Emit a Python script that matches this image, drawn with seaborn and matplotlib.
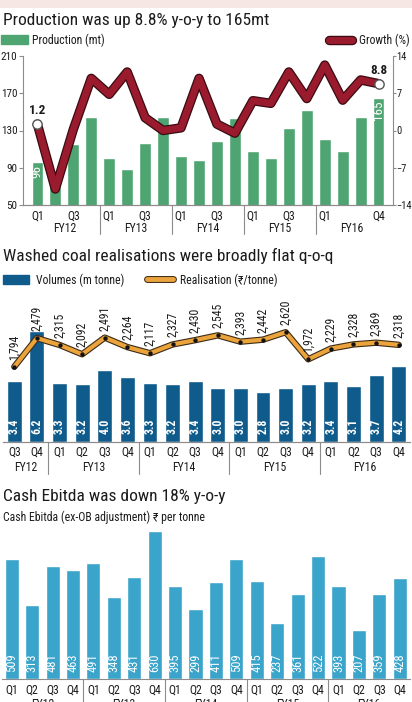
import numpy as np
import matplotlib
matplotlib.use('Agg')
import matplotlib.pyplot as plt
import matplotlib.patheffects as pe
from matplotlib import font_manager
from matplotlib.patches import Patch, Rectangle
from matplotlib.lines import Line2D
import seaborn as sns

# ---- data ----
fy_years = ['FY12', 'FY13', 'FY14', 'FY15', 'FY16']
quarters = ['Q1', 'Q2', 'Q3', 'Q4']

# production (mt) and y-o-y growth (%), FY12 Q1 .. FY16 Q4
production = [96, 75, 115, 145, 101, 89, 117, 144, 103, 98,
              119, 143, 108, 101, 133, 152, 121, 108, 144, 165]
growth = [1.2, -11.0, 0.2, 9.8, 6.8, 11.0, 2.4, 0.0, 0.5, 9.8,
          1.2, -0.5, 5.6, 5.1, 11.0, 6.0, 12.3, 5.7, 9.5, 8.8]
prod_tick_idx = [0, 2, 4, 6, 8, 10, 12, 14, 16, 19]
prod_tick_lab = ['Q1', 'Q3', 'Q1', 'Q3', 'Q1', 'Q3', 'Q1', 'Q3', 'Q1', 'Q4']

# washed coal, FY12 Q3 .. FY16 Q4
volumes = [3.4, 6.2, 3.3, 3.2, 4.0, 3.6, 3.3, 3.2, 3.4, 3.0,
           3.0, 2.8, 3.0, 3.2, 3.4, 3.1, 3.7, 4.2]
realisation = [1794, 2479, 2315, 2092, 2491, 2264, 2117, 2327, 2430, 2545,
               2393, 2442, 2620, 1972, 2229, 2328, 2369, 2318]

# cash ebitda (Rs per tonne), FY12 Q1 .. FY16 Q4
ebitda = [509, 313, 481, 463, 491, 348, 431, 630, 395, 299,
          411, 509, 415, 237, 361, 522, 393, 207, 359, 428]

periods = [f'{fy} {q}' for fy in fy_years for q in quarters]
coal_periods = periods[2:]

green = '#4fa572'
red = '#9a1b2d'
red_dark = '#3a0b12'
blue = '#0f5b8c'
orange = '#eba43c'
orange_dark = '#3d2a16'
light_blue = '#3aa4ca'
grey = '#8c8c8c'
ink = '#1b1b1b'

sns.set_theme(style='white')


def pick_font(names):
    for n in names:
        try:
            font_manager.findfont(n, fallback_to_default=False)
            return n
        except ValueError:
            pass
    return 'DejaVu Sans'


narrow = pick_font(['Liberation Sans Narrow', 'Roboto Condensed', 'Open Sans Condensed', 'DejaVu Sans'])
plt.rcParams['font.family'] = [narrow, 'DejaVu Sans']
plt.rcParams['text.color'] = ink
plt.rcParams['xtick.color'] = ink
plt.rcParams['ytick.color'] = ink

W, H = 412, 702
fig = plt.figure(figsize=(W / 100, H / 100), dpi=100)
fig.patch.set_facecolor('white')


def box(l, t, r, b):
    return [l / W, 1 - b / H, (r - l) / W, (b - t) / H]


def fy_labels(ax, first, dy):
    # FY names under the quarter labels, plus separators between years
    for i, fy in enumerate(fy_years):
        if i * 4 + 3 < first:
            continue
        c = (max(i * 4, first) + i * 4 + 3) / 2 - first
        ax.annotate(fy, xy=(c, 0), xycoords=('data', 'axes fraction'),
                    xytext=(0, -dy), textcoords='offset pixels',
                    ha='center', va='center', fontsize=8.5, annotation_clip=False)
        if i > 0:
            sep = i * 4 - 0.5 - first
            ax.axvline(sep, ymin=-(dy + 6) / ax.bbox.height, ymax=0,
                       color=grey, lw=0.8, clip_on=False)


fig.add_artist(Rectangle((0, 1 - 8 / H), 1, 8 / H, transform=fig.transFigure,
                         color='#f6e6e4', lw=0))

# ---------------- panel 1: production ----------------
fig.text(3 / W, 1 - 21 / H, 'Production was up 8.8% y-o-y to 165mt',
         fontsize=12.5, va='center', ha='left')

ax1 = fig.add_axes(box(23, 56, 393, 205))
sns.barplot(x=periods, y=production, color=green, saturation=1, width=0.65, ax=ax1)
ax1.set_ylim(50, 210)
ax1.set_yticks([50, 90, 130, 170, 210])
for i, v in enumerate(production):
    if i in (0, len(production) - 1):
        ax1.text(i, v - 3, str(v), rotation=90, ha='center', va='top',
                 color='white', fontsize=9.5)

ax1b = ax1.twinx()
sns.lineplot(x=np.arange(len(growth)), y=growth, ax=ax1b, color=red, lw=5,
             path_effects=[pe.Stroke(linewidth=6.8, foreground=red_dark), pe.Normal()])
sns.scatterplot(x=[0, len(growth) - 1], y=[growth[0], growth[-1]], ax=ax1b, s=45,
                color='white', edgecolor='#555555', linewidth=1, zorder=5)
for i in (0, len(growth) - 1):
    ax1b.annotate(f'{growth[i]:.1f}', xy=(i, growth[i]), xytext=(0, 7),
                  textcoords='offset pixels', ha='center', va='bottom',
                  fontsize=9.5, fontweight='bold')
ax1b.set_ylim(-14, 14)
ax1b.set_yticks([-14, -7, 0, 7, 14])
ax1.set_xlim(-0.8, len(production) - 0.2)
ax1.set_xticks(prod_tick_idx)
ax1.set_xticklabels(prod_tick_lab)
for a in (ax1, ax1b):
    a.set_xlabel('')
    a.set_ylabel('')
    a.spines['top'].set_visible(False)
    for s in a.spines.values():
        s.set_color(grey)
        s.set_linewidth(0.8)
ax1.spines['right'].set_visible(False)
ax1b.spines['left'].set_visible(False)
ax1.tick_params(axis='y', direction='out', length=3, width=0.8, color=grey,
                labelsize=8, pad=1)
ax1b.tick_params(axis='y', direction='out', length=2, width=0.8, color=grey,
                 labelsize=7.5, pad=0.5)
ax1.tick_params(axis='x', length=0, labelsize=8.5, pad=3)
fy_labels(ax1, 0, 23)

# legend row
fig.legend(handles=[Patch(color=green, label='Production (mt)')], loc='center left',
           bbox_to_anchor=(1 / W, 1 - 40 / H), frameon=False, fontsize=8.5,
           handlelength=2.3, handleheight=0.7, handletextpad=0.35, borderpad=0,
           borderaxespad=0)
fig.legend(handles=[Line2D([0], [0], color=red, lw=5, solid_capstyle='round',
                           path_effects=[pe.Stroke(linewidth=6.8, foreground=red_dark,
                                                   capstyle='round'), pe.Normal()],
                           label='Growth (%)')],
           loc='center right', bbox_to_anchor=(410 / W, 1 - 40 / H), frameon=False,
           fontsize=8.5, handlelength=2.0, handletextpad=0.6, borderpad=0,
           borderaxespad=0)

# ---------------- panel 2: washed coal ----------------
fig.text(3 / W, 1 - 256 / H, 'Washed coal realisations were broadly flat q-o-q',
         fontsize=12.5, va='center', ha='left')

ax2 = fig.add_axes(box(3, 290, 410, 441.7))
sns.barplot(x=coal_periods, y=volumes, color=blue, saturation=1, width=0.66, ax=ax2)
ax2.set_ylim(0, 8.47)
for i, v in enumerate(volumes):
    ax2.text(i, 0.45, f'{v:.1f}', rotation=90, ha='center', va='bottom',
             color='white', fontsize=8.5, fontweight='bold')

ax2b = ax2.twinx()
sns.lineplot(x=np.arange(len(realisation)), y=realisation, ax=ax2b, color=orange, lw=3,
             path_effects=[pe.Stroke(linewidth=4.6, foreground=orange_dark), pe.Normal()])
sns.scatterplot(x=np.arange(len(realisation)), y=realisation, ax=ax2b, s=10,
                color='#111111', linewidth=0, zorder=5)
for i, v in enumerate(realisation):
    ax2b.annotate(f'{v:,}', xy=(i, v), xytext=(0, 7), textcoords='offset pixels',
                  rotation=90, ha='center', va='bottom', fontsize=8.5)
ax2b.set_ylim(0, 3630)
ax2.set_xlim(-0.5, len(volumes) - 0.5)
ax2.set_xticks(range(len(coal_periods)))
ax2.set_xticklabels([p.split()[1] for p in coal_periods])
for a in (ax2, ax2b):
    a.set_xlabel('')
    a.set_ylabel('')
    a.set_yticks([])
    for s in ['top', 'left', 'right']:
        a.spines[s].set_visible(False)
    a.spines['bottom'].set_color(grey)
    a.spines['bottom'].set_linewidth(0.8)
ax2.tick_params(axis='x', length=0, labelsize=8.5, pad=3)
fy_labels(ax2, 2, 26)

fig.legend(handles=[Patch(color=blue, label='Volumes (m tonne)'),
                    Line2D([0], [0], color=orange, lw=3.5, solid_capstyle='round',
                           path_effects=[pe.Stroke(linewidth=5, foreground=orange_dark,
                                                   capstyle='round'), pe.Normal()],
                           label='Realisation (\u20b9/tonne)')],
           loc='center left', bbox_to_anchor=(3 / W, 1 - 280 / H), ncol=2,
           frameon=False, fontsize=8.5, handlelength=2.2, handleheight=0.8,
           handletextpad=0.6, columnspacing=1.9, borderpad=0, borderaxespad=0)

# ---------------- panel 3: cash ebitda ----------------
fig.text(3 / W, 1 - 496 / H, 'Cash Ebitda was down 18% y-o-y',
         fontsize=12.5, va='center', ha='left')
fig.text(3 / W, 1 - 517 / H, 'Cash Ebitda (ex-OB adjustment) \u20b9 per tonne',
         fontsize=8.5, va='center', ha='left')

ax3 = fig.add_axes(box(1.5, 520, 410, 679))
sns.barplot(x=periods, y=ebitda, color=light_blue, saturation=1, width=0.69, ax=ax3)
ax3.set_ylim(0, 675)
for i, v in enumerate(ebitda):
    ax3.text(i, 28, str(v), rotation=90, ha='center', va='bottom',
             color='white', fontsize=9)
ax3.set_xlim(-0.5, len(ebitda) - 0.5)
ax3.set_xticks(range(len(periods)))
ax3.set_xticklabels([p.split()[1] for p in periods])
ax3.set_xlabel('')
ax3.set_ylabel('')
ax3.set_yticks([])
for s in ['top', 'left', 'right']:
    ax3.spines[s].set_visible(False)
ax3.spines['bottom'].set_color(grey)
ax3.spines['bottom'].set_linewidth(0.8)
ax3.tick_params(axis='x', length=0, labelsize=8.5, pad=3)
fy_labels(ax3, 0, 26)

fig.savefig('out.png', dpi=100)
